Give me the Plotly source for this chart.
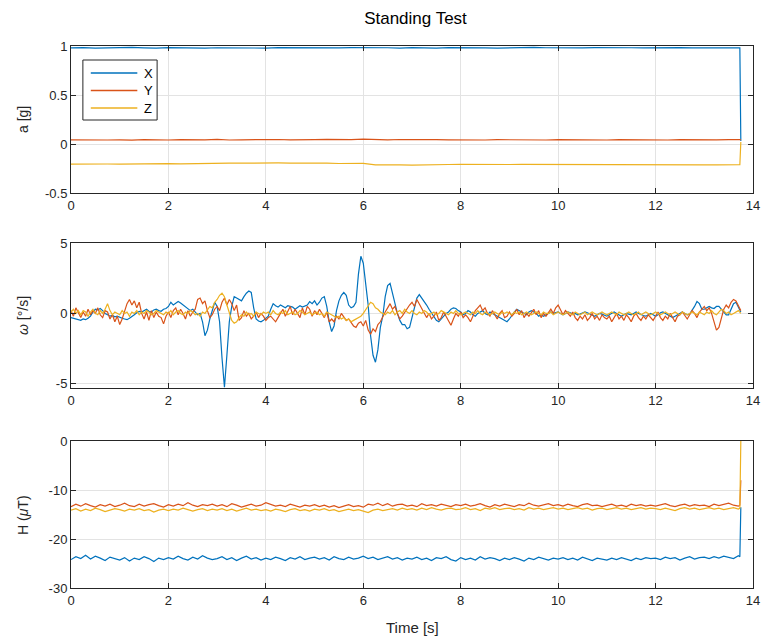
import plotly.graph_objects as go
from plotly.subplots import make_subplots

# ---------------- data ----------------
# accelerometer, sampled every 0.25 s, plus the last two samples
t_acc = [round(0.25 * i, 2) for i in range(55)] + [13.73, 13.75]
acc_x = [0.981, 0.984, 0.979, 0.983, 0.980, 0.985, 0.981, 0.978,
         0.983, 0.980, 0.984, 0.979, 0.982, 0.980, 0.985, 0.981,
         0.979, 0.983, 0.981, 0.984, 0.978, 0.982, 0.980, 0.983,
         0.985, 0.980, 0.982, 0.979, 0.984, 0.981, 0.978, 0.983,
         0.980, 0.984, 0.981, 0.979, 0.983, 0.980, 0.985, 0.982,
         0.979, 0.983, 0.980, 0.984, 0.981, 0.978, 0.982, 0.980,
         0.983, 0.979, 0.984, 0.981, 0.980, 0.983, 0.979,
         0.981, 0.03]
acc_y = [0.042, 0.040, 0.044, 0.041, 0.043, 0.040, 0.045, 0.042,
         0.041, 0.044, 0.040, 0.043, 0.047, 0.041, 0.043, 0.045,
         0.042, 0.046, 0.043, 0.041, 0.044, 0.047, 0.043, 0.045,
         0.049, 0.044, 0.042, 0.046, 0.043, 0.041, 0.044, 0.042,
         0.040, 0.043, 0.041, 0.044, 0.042, 0.040, 0.043, 0.041,
         0.044, 0.042, 0.040, 0.043, 0.041, 0.044, 0.042, 0.040,
         0.043, 0.041, 0.044, 0.042, 0.040, 0.043, 0.045,
         0.044, 0.044]
acc_z = [-0.205, -0.203, -0.206, -0.204, -0.205, -0.202, -0.204, -0.203,
         -0.200, -0.202, -0.199, -0.201, -0.198, -0.196, -0.195, -0.192,
         -0.190, -0.193, -0.195, -0.194, -0.197, -0.196, -0.199, -0.200,
         -0.198, -0.212, -0.210, -0.213, -0.215, -0.211, -0.208, -0.209,
         -0.207, -0.209, -0.208, -0.210, -0.209, -0.207, -0.208, -0.206,
         -0.207, -0.205, -0.206, -0.208, -0.207, -0.209, -0.210, -0.211,
         -0.212, -0.213, -0.214, -0.215, -0.214, -0.212, -0.211,
         -0.211, 0.02]

# gyroscope, sampled every 0.05 s
t_gyr = [round(0.05 * i, 2) for i in range(276)]
gyr_x = [-0.3, -0.35, -0.4, -0.45, -0.5, -0.4, -0.45, -0.35, -0.2, 0.1, 0.3, 0.25, 0.35, 0.2, 0.0, -0.1, -0.2, -0.15, -0.25, -0.2,
         -0.3, -0.35, -0.4, -0.45, -0.35, -0.25, -0.1, 0.05, 0.15, 0.1, 0.2, 0.3, 0.15, 0.1, 0.25, 0.3, 0.2, 0.15, 0.3, 0.35,
         0.5, 0.8, 0.6, 0.7, 0.85, 0.75, 0.6, 0.5, 0.35, 0.2, 0.3, 0.1, -0.1, 0.0, -0.6, -1.6, -1.2, -0.4, 0.3, 0.8,
         0.5, -0.6, -3.2, -5.3, -3.0, -0.6, 0.5, 1.2, 1.1, 1.0, 0.9, 1.2, 1.45, 1.6, 1.5, 0.4, -0.4, -0.55, -0.6, -0.5,
         -0.35, -0.2, 0.3, 0.7, 0.55, 0.45, 0.6, 0.5, 0.4, 0.55, 0.5, 0.45, 0.3, 0.4, 0.55, 0.45, 0.5, 0.6, 0.85, 0.7,
         0.9, 0.6, 0.8, 1.1, 1.2, 0.5, -0.6, -1.3, -0.9, 0.2, 0.9, 1.3, 1.5, 1.3, 0.6, 0.4, 0.5, 0.8, 2.8, 4.1,
         3.6, 2.3, 0.6, -1.6, -3.0, -3.5, -2.6, -1.0, -0.2, 1.2, 2.0, 2.15, 1.4, 0.6, 0.0, -0.5, -0.8, -0.8, -1.1, -1.0,
         -0.3, 0.5, 1.1, 1.35, 1.1, 0.9, 0.6, 0.3, 0.0, -0.3, -0.5, -0.6, -0.4, -0.2, 0.0, 0.1, 0.3, 0.4, 0.35, 0.2,
         0.1, -0.1, 0.0, 0.2, 0.1, -0.1, -0.2, 0.0, 0.1, 0.2, 0.0, -0.1, 0.1, 0.0, -0.1, -0.2, -0.3, -0.4, -0.5, -0.6,
         -0.4, -0.1, 0.1, 0.3, 0.2, 0.1, 0.0, -0.1, 0.1, 0.2, 0.1, 0.0, -0.2, -0.1, -0.2, -0.1, 0.0, 0.1, 0.0, 0.05,
         0.1, 0.0, -0.1, 0.0, 0.1, 0.05, -0.05, 0.0, -0.1, -0.05, 0.0, 0.1, 0.05, -0.05, -0.1, -0.2, -0.1, 0.0, -0.05, -0.1,
         -0.2, -0.1, 0.0, 0.1, 0.0, -0.1, -0.2, -0.1, 0.0, -0.05, -0.1, 0.0, 0.1, 0.0, -0.1, -0.15, -0.2, -0.1, 0.0, -0.1,
         -0.2, -0.1, 0.05, 0.1, 0.0, -0.1, -0.2, -0.3, -0.2, -0.1, 0.0, 0.1, 0.0, -0.1, -0.05, 0.2, 0.5, 0.85, 0.7, 0.3,
         0.3, 0.4, 0.5, 0.4, 0.35, 0.5, 0.5, 0.3, 0.1, -0.1, -0.1, 0.3, 0.7, 0.8, 0.4, 0.1]
gyr_y = [0.2, -0.2, 0.4, 0.0, -0.3, 0.1, -0.2, 0.3, -0.1, 0.2, 0.0, 0.4, -0.1, -0.3, 0.2, 0.1, -0.4, -0.1, -0.6, -0.2,
         -0.8, -0.4, 0.1, 0.7, 1.0, 0.6, 0.9, 0.4, 0.8, 0.0, -0.4, 0.1, -0.5, 0.2, -0.3, 0.1, -0.2, -0.3, -0.75, -0.2,
         0.1, -0.3, 0.2, 0.4, -0.1, 0.3, 0.0, -0.4, 0.2, -0.2, 0.1, 0.3, 1.0, 1.1, 0.7, 0.9, 0.2, -0.3, -0.1, 0.3,
         0.5, 0.2, 0.8, 1.1, 0.6, 1.0, 0.7, 0.2, 0.6, -0.5, -0.3, 0.2, -0.2, 0.0, -0.4, -0.2, 0.1, -0.3, 0.0, -0.2,
         -0.5, -0.3, -0.2, -0.4, -0.6, -0.3, 0.0, 0.3, -0.2, 0.2, 0.5, -0.1, 0.3, 0.0, -0.3, 0.4, -0.1, 0.5, 0.3, -0.2,
         0.2, -0.1, 0.3, 0.0, -0.3, 0.1, -0.6, -0.4, -0.6, -0.2, -0.4, 0.0, -0.3, -0.5, -0.4, -0.7, -0.9, -1.0, -0.7, -0.6,
         -0.9, -0.5, -1.2, -1.5, -1.1, -1.3, -0.8, -0.6, -0.2, 0.1, 0.4, 0.7, 0.3, 0.5, 0.0, -0.4, -0.2, 0.1, 0.4, 0.6,
         0.8, 0.5, 1.0, 0.7, 0.3, 0.1, -0.3, 0.0, -0.4, -0.2, 0.1, -0.5, -0.3, 0.1, -0.2, -0.5, -0.85, -0.4, 0.0, -0.2,
         0.1, -0.3, -0.1, -0.3, -0.6, -0.2, 0.2, 0.4, 0.6, 0.2, 0.4, 0.0, -0.2, 0.2, -0.1, -0.4, 0.0, 0.2, -0.3, -0.2,
         0.1, -0.2, 0.0, 0.3, -0.1, 0.2, -0.3, 0.0, -0.2, 0.1, 0.3, -0.1, 0.2, -0.3, 0.0, -0.2, 0.1, 0.3, 0.0, 0.4,
         0.6, 0.2, -0.1, 0.2, 0.0, -0.2, 0.1, -0.3, -0.5, -0.2, -0.4, -0.1, -0.5, -0.3, 0.0, -0.4, -0.2, -0.5, -0.1, -0.3,
         -0.4, -0.2, -0.6, -0.3, 0.0, -0.4, -0.2, -0.5, -0.1, -0.3, -0.6, -0.2, 0.0, -0.3, -0.5, -0.2, -0.4, -0.1, -0.3, -0.5,
         -0.2, 0.1, -0.3, -0.5, -0.2, -0.4, 0.0, -0.3, -0.6, -0.2, -0.1, 0.1, -0.2, -0.4, -0.1, 0.2, 0.0, -0.3, 0.1, 0.3,
         0.5, 0.2, 0.4, 0.0, -0.6, -1.2, -1.0, -0.3, 0.3, 0.6, 0.4, 0.8, 1.0, 0.9, 0.6, 0.2]
gyr_z = [0.1, 0.3, 0.0, 0.2, -0.1, 0.2, 0.1, -0.2, 0.1, 0.3, 0.0, -0.1, 0.2, 0.0, 0.3, 0.7, 0.2, -0.1, 0.1, 0.0,
         -0.1, 0.2, 0.0, 0.1, -0.2, 0.1, 0.0, 0.2, -0.1, 0.1, 0.0, 0.2, 0.1, -0.1, 0.0, 0.2, 0.1, 0.0, -0.1, 0.1,
         0.0, 0.2, -0.1, 0.1, 0.2, 0.0, -0.1, 0.1, 0.0, 0.2, 0.1, -0.1, 0.0, -0.2, 0.1, 0.0, 0.3, 0.5, 0.4, 0.8,
         1.0, 1.3, 1.45, 1.2, 0.6, 0.0, -0.5, -0.7, -0.6, -0.3, -0.1, -0.2, 0.1, -0.1, 0.0, -0.2, 0.1, 0.0, -0.1, 0.1,
         0.0, 0.1, -0.1, 0.2, 0.0, -0.1, 0.1, 0.0, 0.2, -0.1, 0.0, 0.1, -0.1, 0.0, 0.2, 0.1, -0.1, 0.0, 0.1, -0.1,
         0.0, 0.1, -0.1, 0.0, -0.2, 0.1, 0.0, -0.1, -0.2, -0.3, -0.2, -0.4, -0.3, -0.5, -0.4, -0.6, -0.5, -0.4, -0.3, -0.2,
         0.0, 0.3, 0.6, 0.8, 0.7, 0.4, 0.3, 0.1, 0.0, -0.1, 0.1, 0.0, 0.2, -0.1, 0.1, 0.2, 0.0, 0.3, 0.1, 0.0,
         0.2, 0.0, -0.1, 0.1, 0.0, 0.2, 0.1, -0.1, 0.0, 0.1, -0.1, 0.0, 0.2, 0.1, 0.0, -0.1, 0.1, 0.0, 0.2, 0.0,
         -0.1, 0.0, 0.1, 0.0, -0.1, 0.1, 0.0, 0.2, 0.0, -0.1, 0.1, 0.0, -0.1, 0.0, 0.1, 0.0, -0.1, 0.1, 0.0, 0.1,
         0.0, -0.1, 0.1, 0.0, 0.1, -0.1, 0.0, 0.1, 0.0, -0.1, 0.0, 0.1, 0.0, -0.1, 0.1, 0.0, 0.0, 0.1, -0.1, 0.0,
         0.1, 0.0, -0.1, 0.0, 0.1, 0.0, -0.1, 0.1, 0.0, -0.1, 0.0, 0.1, -0.1, 0.0, 0.1, 0.0, -0.1, 0.0, 0.1, 0.0,
         -0.1, 0.0, 0.1, 0.0, -0.1, 0.1, 0.0, -0.1, 0.0, 0.1, 0.0, -0.1, 0.0, 0.1, -0.1, 0.0, 0.1, 0.0, -0.1, 0.0,
         0.1, 0.0, -0.1, 0.0, 0.1, 0.0, -0.1, 0.0, 0.1, 0.0, -0.1, 0.1, 0.0, -0.1, 0.0, 0.1, 0.0, -0.1, 0.1, 0.0,
         -0.1, 0.1, 0.0, 0.2, 0.0, -0.1, 0.1, 0.3, 0.2, 0.0, 0.1, -0.1, 0.0, 0.1, 0.2, 0.0]

# magnetometer, sampled every 0.1 s, plus the last two samples
t_mag = [round(0.1 * i, 1) for i in range(138)] + [13.73, 13.75]
mag_x = [-24.2, -23.6, -24.0, -23.3, -24.1, -23.5, -23.9, -24.4, -23.7, -24.0,
         -24.3, -23.8, -24.5, -23.9, -24.2, -23.6, -24.0, -24.6, -23.9, -24.2,
         -23.8, -24.1, -23.5, -24.0, -24.3, -23.7, -24.1, -23.4, -23.9, -24.2,
         -24.0, -23.6, -24.2, -23.8, -24.4, -23.9, -23.5, -24.1, -23.8, -24.3,
         -23.9, -24.2, -23.7, -24.0, -24.4, -23.8, -24.1, -23.6, -24.2, -23.9,
         -23.7, -24.1, -23.8, -24.3, -23.6, -24.0, -24.2, -23.7, -24.1, -23.9,
         -23.5, -24.0, -23.7, -24.2, -23.9, -23.6, -24.1, -23.8, -24.3, -23.9,
         -24.1, -23.7, -24.2, -23.9, -24.4, -23.8, -24.0, -23.6, -24.2, -24.5,
         -23.8, -24.2, -23.9, -24.3, -23.6, -24.1, -23.8, -24.0, -24.4, -23.9,
         -24.2, -23.8, -24.1, -24.5, -23.9, -24.2, -23.7, -24.0, -24.3, -23.9,
         -24.1, -23.8, -24.2, -23.9, -24.3, -23.7, -24.0, -24.4, -23.9, -24.1,
         -24.3, -23.9, -24.2, -23.8, -24.1, -24.4, -23.9, -24.2, -23.8, -24.0,
         -23.9, -24.2, -23.7, -24.0, -23.8, -24.3, -23.9, -23.6, -24.1, -23.8,
         -23.7, -24.0, -23.6, -23.9, -23.5, -23.8, -24.0, -23.4, -23.6, -13.5]
mag_y = [-13.4, -12.9, -13.3, -12.8, -13.2, -13.5, -13.0, -13.3, -12.9, -13.4,
         -13.1, -12.7, -13.2, -13.4, -12.9, -13.3, -13.0, -12.8, -13.2, -13.5,
         -13.0, -13.3, -12.9, -13.2, -12.6, -13.1, -13.4, -13.0, -13.2, -12.9,
         -13.3, -13.0, -13.4, -12.8, -13.1, -13.5, -13.2, -12.9, -13.3, -13.1,
         -12.6, -13.0, -13.3, -13.1, -13.4, -12.9, -13.2, -13.5, -13.1, -13.3,
         -13.0, -13.4, -13.1, -13.5, -13.2, -13.6, -13.3, -13.0, -13.4, -13.2,
         -13.5, -12.9, -13.1, -12.7, -13.2, -12.8, -13.3, -13.0, -12.9, -13.3,
         -13.1, -13.4, -12.8, -13.2, -13.0, -13.3, -12.9, -13.2, -13.4, -13.0,
         -13.2, -12.9, -13.3, -13.1, -12.8, -13.2, -13.5, -13.0, -13.3, -12.9,
         -13.1, -13.4, -13.0, -13.2, -12.7, -13.1, -13.3, -13.0, -12.8, -13.2,
         -13.0, -13.3, -12.9, -13.2, -13.4, -13.0, -12.8, -13.2, -13.1, -13.4,
         -13.2, -12.9, -13.3, -13.1, -13.4, -12.9, -13.2, -13.0, -13.3, -13.1,
         -13.3, -13.0, -12.8, -13.2, -13.4, -13.1, -12.9, -13.3, -13.0, -13.2,
         -13.1, -13.4, -12.9, -13.2, -13.0, -12.7, -13.1, -13.3, -13.1, -8.0]
mag_z = [-14.1, -13.8, -14.3, -13.9, -14.2, -13.7, -14.0, -14.4, -14.1, -13.8,
         -14.0, -14.3, -13.9, -14.1, -13.8, -14.2, -14.0, -14.5, -14.1, -13.9,
         -14.2, -13.9, -14.1, -13.7, -14.0, -14.3, -14.0, -13.8, -14.2, -13.9,
         -14.1, -13.8, -14.2, -13.9, -14.3, -14.0, -13.7, -14.1, -13.9, -14.2,
         -14.0, -14.3, -13.9, -14.1, -14.4, -14.0, -13.8, -14.2, -14.0, -14.3,
         -13.9, -14.1, -13.8, -14.2, -14.0, -14.4, -14.1, -13.9, -14.2, -14.0,
         -14.3, -14.6, -14.1, -13.9, -14.2, -14.0, -13.8, -14.1, -13.7, -14.0,
         -13.8, -14.1, -13.7, -14.0, -13.6, -13.9, -14.1, -13.8, -13.7, -14.0,
         -13.9, -13.6, -14.0, -13.8, -14.2, -13.7, -13.9, -13.6, -14.0, -13.8,
         -13.7, -14.0, -13.8, -14.1, -13.6, -13.9, -13.7, -14.0, -13.8, -13.6,
         -13.9, -13.7, -14.0, -13.8, -13.6, -13.9, -13.7, -14.1, -13.8, -13.7,
         -14.0, -13.8, -13.6, -13.9, -13.7, -14.0, -13.8, -13.6, -13.9, -13.7,
         -13.8, -14.0, -13.7, -13.9, -14.2, -13.8, -13.6, -13.9, -13.7, -14.0,
         -13.8, -13.6, -13.9, -13.7, -14.0, -13.8, -13.6, -13.9, -13.7, 0.0]

for series in (acc_x, acc_y, acc_z):
    assert len(series) == len(t_acc)
for series in (gyr_x, gyr_y, gyr_z):
    assert len(series) == len(t_gyr)
for series in (mag_x, mag_y, mag_z):
    assert len(series) == len(t_mag)

names = ["X", "Y", "Z"]
colors = ["#0072BD", "#D95319", "#EDB120"]
x_ticks = [0, 2, 4, 6, 8, 10, 12, 14]

# ---------------- figure ----------------
W, H = 771, 641
ML, MR, MT, MB = 71, 11, 46, 53
plot_w = W - ML - MR
plot_h = H - MT - MB
font_family = "Liberation Sans, Arial, sans-serif"
ink = "#262626"


def dom(top_px, bot_px):
    return [(H - MB - bot_px) / plot_h, (H - MB - top_px) / plot_h]


def px(xp):
    return (xp - ML) / plot_w


def py(yp):
    return (H - MB - yp) / plot_h


fig = make_subplots(rows=3, cols=1, shared_xaxes=False)

panels = [
    (t_acc, [acc_x, acc_y, acc_z]),
    (t_gyr, [gyr_x, gyr_y, gyr_z]),
    (t_mag, [mag_x, mag_y, mag_z]),
]
for row, (tt, ys) in enumerate(panels, start=1):
    for name, col, yy in zip(names, colors, ys):
        fig.add_trace(go.Scatter(x=tt, y=yy, mode="lines", name=name,
                                 line=dict(color=col, width=1.2),
                                 showlegend=False),
                      row=row, col=1)

axis_common = dict(showline=True, linecolor=ink, linewidth=1,
                   mirror="ticks", ticks="inside", ticklen=5,
                   tickcolor=ink, showgrid=True, gridcolor="#e3e3e3",
                   gridwidth=1, zeroline=False,
                   tickfont=dict(family=font_family, size=13, color=ink))

domains = [dom(46, 193), dom(243, 388), dom(441, 588)]
y_setups = [
    dict(range=[-0.5, 1], tickvals=[-0.5, 0, 0.5, 1], ticktext=["-0.5", "0", "0.5", "1"]),
    dict(range=[-5.35, 5.05], tickvals=[-5, 0, 5], ticktext=["-5", "0", "5"]),
    dict(range=[-30, 0], tickvals=[-30, -20, -10, 0], ticktext=["-30", "-20", "-10", "0"]),
]
for i in range(3):
    sfx = "" if i == 0 else str(i + 1)
    fig.layout["xaxis" + sfx].update(range=[0, 14], tickvals=x_ticks,
                                     ticktext=[str(v) for v in x_ticks],
                                     **axis_common)
    fig.layout["yaxis" + sfx].update(domain=domains[i], **y_setups[i], **axis_common)

y_labels = ["a [g]", "<i>ω</i> [°/s]", "H (<i>μ</i>T)"]
annotations = []
for lab, d in zip(y_labels, domains):
    annotations.append(dict(text=lab, xref="paper", yref="paper",
                            x=px(22), y=(d[0] + d[1]) / 2,
                            xanchor="center", yanchor="middle", textangle=-90,
                            showarrow=False,
                            font=dict(family=font_family, size=14, color=ink)))
annotations.append(dict(text="Time [s]", xref="paper", yref="paper",
                        x=0.5, y=py(628),
                        xanchor="center", yanchor="middle", showarrow=False,
                        font=dict(family=font_family, size=15, color=ink)))

# legend box drawn in the first panel's top-left corner
shapes = [dict(type="rect", xref="paper", yref="paper",
               x0=px(83), x1=px(158), y0=py(120), y1=py(60),
               line=dict(color=ink, width=1), fillcolor="white", layer="above")]
for k, (name, col) in enumerate(zip(names, colors)):
    yk = 73 + 17.5 * k
    shapes.append(dict(type="line", xref="paper", yref="paper",
                       x0=px(91), x1=px(138), y0=py(yk), y1=py(yk),
                       line=dict(color=col, width=1.4), layer="above"))
    annotations.append(dict(text=name, xref="paper", yref="paper",
                            x=px(143), y=py(yk), xanchor="left", yanchor="middle",
                            showarrow=False,
                            font=dict(family=font_family, size=13, color="#000000")))

fig.update_layout(
    width=W, height=H,
    margin=dict(l=ML, r=MR, t=MT, b=MB),
    paper_bgcolor="white", plot_bgcolor="white",
    title=dict(text="Standing Test", x=(ML + plot_w / 2) / W, xanchor="center",
               y=1 - 18 / H, yanchor="middle",
               font=dict(family=font_family, size=17, color="#000000")),
    annotations=annotations,
    shapes=shapes,
    showlegend=False,
)

fig.write_html("out.html")
